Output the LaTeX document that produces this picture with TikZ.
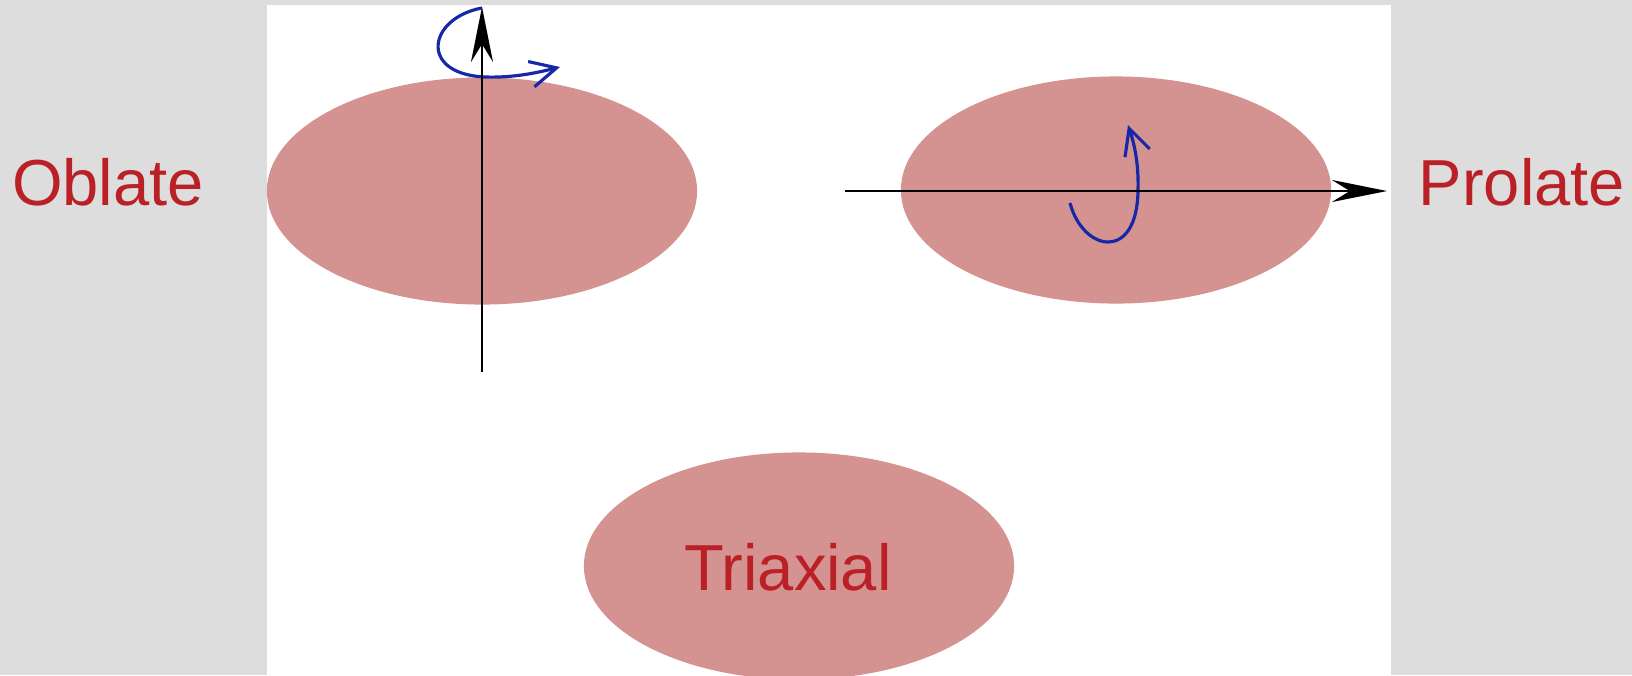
\documentclass[tikz,border=0pt]{standalone}
\usepackage{fontspec}
\setmainfont{Liberation Sans}
\usetikzlibrary{shapes.geometric,arrows.meta}
\definecolor{shapefill}{RGB}{212,146,145}
\definecolor{labelred}{RGB}{186,32,38}
\definecolor{spinblue}{RGB}{22,40,168}
\definecolor{pagegray}{RGB}{221,221,221}

\begin{document}
\begin{tikzpicture}[x=0.01cm,y=-0.01cm,
    body/.style={ellipse,fill=shapefill,minimum width=4.3cm,minimum height=2.27cm,inner sep=0pt},
    tag/.style={text=labelred,font=\fontsize{18.5}{20}\selectfont},
    axis/.style={line width=0.6pt,-{Stealth[length=5.5mm,width=2.2mm]}},
    spin/.style={spinblue,line width=0.9pt,-{Straight Barb[length=2.6mm,width=2.6mm]}}]
  % page and white panel
  \fill[pagegray] (0,0) rectangle (1632,675);
  \fill[white] (267,5) rectangle (1391,675);
  \useasboundingbox (0,0) rectangle (1632,675);
  % the three bodies
  \node[body] (oblate) at (482,191) {};
  \node[body] (prolate) at (1116,190) {};
  \node[body] (triaxial) at (799,566) {};
  \node[tag] (triaxiallbl) at (788,567) {Triaxial};
  \node[tag] (oblatelbl) at (108,182) {Oblate};
  \node[tag] (prolatelbl) at (1522,182) {Prolate};
  % rotation axes
  \coordinate (oblatefoot) at (482,372);
  \coordinate (oblatetip) at (482,7);
  \coordinate (prolatetail) at (845,191);
  \coordinate (prolatetip) at (1387,191);
  \draw[spin] (482,8) .. controls (428,18) and (418,74) .. (485,77)
    .. controls (515,78) and (540,72) .. (560,67);
  \draw[spin] (1070,203) .. controls (1083,252) and (1137,262) .. (1138,191)
    .. controls (1139,160) and (1133,140) .. (1128,125);
  \draw[axis] (oblatefoot) -- (oblatetip);
  \draw[axis] (prolatetail) -- (prolatetip);
\end{tikzpicture}
\end{document}
